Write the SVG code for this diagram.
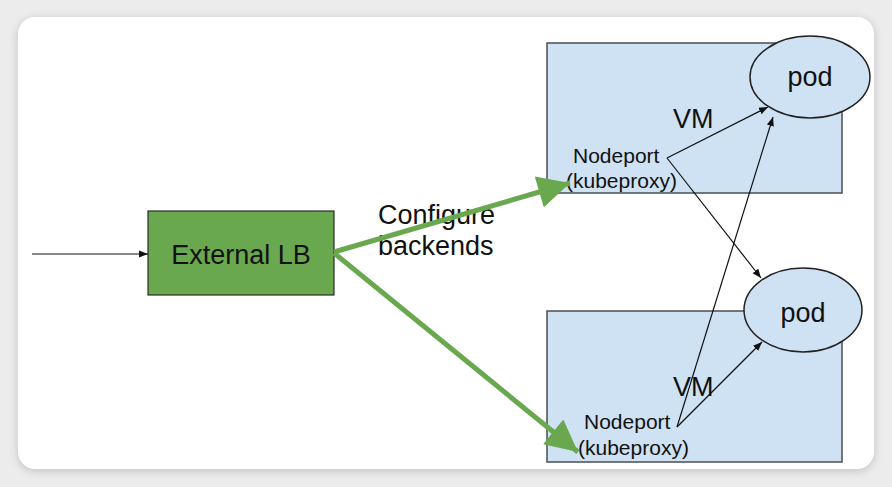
<svg xmlns="http://www.w3.org/2000/svg" width="892" height="487" viewBox="0 0 892 487">
<defs>
<style>
text{font-family:"Liberation Sans",Arial,sans-serif;fill:#111}
.big{font-size:27px}
.small{font-size:21px}
.box{fill:#cfe2f3;stroke:#4a4f55;stroke-width:1.5}
.pod{fill:#cfe2f3;stroke:#222;stroke-width:1.5}
.thin{fill:none;stroke:#111;stroke-width:1.2}
.green{fill:none;stroke:#6aa84f;stroke-width:5}
</style>
<marker id="ah" viewBox="0 0 10 10" refX="10" refY="5" markerWidth="9" markerHeight="9" markerUnits="userSpaceOnUse" orient="auto">
<path d="M0,1 L10,5 L0,9 z" fill="#111"/>
</marker>
<marker id="gh" viewBox="0 0 10 10" refX="10" refY="5" markerWidth="34" markerHeight="32" markerUnits="userSpaceOnUse" orient="auto">
<path d="M0,0 L10,5 L0,10 z" fill="#6aa84f"/>
</marker>
<filter id="sh" x="-5%" y="-5%" width="110%" height="110%">
<feGaussianBlur stdDeviation="5"/>
</filter>
</defs>
<rect x="0" y="0" width="892" height="487" fill="#ececec"/>
<rect x="18" y="19" width="856" height="452" rx="17" fill="#000" opacity="0.18" filter="url(#sh)"/>
<rect x="18" y="17" width="856" height="452" rx="17" fill="#fff"/>

<g id="vm-top">
<rect class="box" x="547" y="43" width="295" height="150"/>
<text class="big" x="673" y="128">VM</text>
<text class="small" x="573" y="163">Nodeport</text>
<text class="small" x="566" y="188">(kubeproxy)</text>
</g>
<g id="vm-bottom">
<rect class="box" x="547" y="311" width="295" height="151"/>
<text class="big" x="673" y="396">VM</text>
<text class="small" x="584" y="429">Nodeport</text>
<text class="small" x="578" y="455">(kubeproxy)</text>
</g>
<g id="pod-top">
<ellipse class="pod" cx="810" cy="77" rx="60" ry="41"/>
<text class="big" x="810" y="86" text-anchor="middle">pod</text>
</g>
<g id="pod-bottom">
<ellipse class="pod" cx="803" cy="310" rx="59" ry="42"/>
<text class="big" x="803" y="322" text-anchor="middle">pod</text>
</g>
<g id="external-lb">
<rect x="148" y="211" width="186" height="84" fill="#6aa84f" stroke="#2b2b2b" stroke-width="1.2"/>
<text class="big" x="241" y="264" text-anchor="middle">External LB</text>
</g>
<g id="label-configure">
<text class="big" x="378" y="224">Configure</text>
<text class="big" x="378" y="255">backends</text>
</g>

<g id="connectors">
<line class="thin" x1="32" y1="254" x2="148" y2="254" marker-end="url(#ah)"/>
<line class="green" x1="334" y1="252" x2="570" y2="183" marker-end="url(#gh)"/>
<line class="green" x1="334" y1="253" x2="578" y2="452" marker-end="url(#gh)"/>
<line class="thin" x1="667" y1="158" x2="768" y2="107" marker-end="url(#ah)"/>
<line class="thin" x1="667" y1="158" x2="761" y2="278" marker-end="url(#ah)"/>
<line class="thin" x1="677" y1="427" x2="773" y2="117" marker-end="url(#ah)"/>
<line class="thin" x1="677" y1="427" x2="762" y2="342" marker-end="url(#ah)"/>
</g>
</svg>
